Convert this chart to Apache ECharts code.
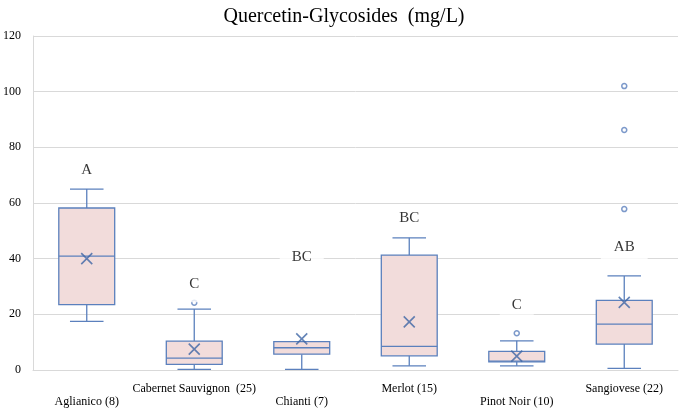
<!DOCTYPE html>
<html>
<head>
<meta charset="utf-8">
<script src="https://cdn.jsdelivr.net/npm/echarts@6/dist/echarts.min.js"></script>
<style>
  html, body { margin: 0; padding: 0; background: #fff; }
  #main { width: 688px; height: 411px; }
</style>
</head>
<body>
<div id="main"></div>
<script>
// categories and box statistics
var categories = ['Aglianico (8)', 'Cabernet Sauvignon  (25)', 'Chianti (7)', 'Merlot (15)', 'Pinot Noir (10)', 'Sangiovese (22)'];
var boxMin    = [17.5, 0.2, 0.2, 1.5, 1.5, 0.6];
var boxQ1     = [23.5, 2.0, 5.7, 5.1, 2.9, 9.3];
var boxMedian = [40.9, 4.3, 8.0, 8.5, 3.2, 16.5];
var boxQ3     = [58.2, 10.4, 10.2, 41.3, 6.7, 25.0];
var boxMax    = [65.0, 21.9, 10.2, 47.5, 10.5, 33.8];
var means     = [40.0, 7.5, 11.2, 17.3, 5.0, 24.3];
// outliers: [category index, value]
var outliers  = [[1, 24.2], [4, 13.2], [5, 57.8], [5, 86.2], [5, 102]];
// letter groups and where they sit
var groupLetters = ['A', 'C', 'BC', 'BC', 'C', 'AB'];
var letterPos    = [72, 31, 40.5, 54.5, 23.3, 44];

var serif = '"Liberation Serif", "Times New Roman", serif';
var blue = '#5b80bd';
// white label boxes differ a little in size
var letterPad = [[5, 10], [11, 12], [5, 12], [5, 12], [2, 12], [4, 13]];

var boxData = categories.map(function (c, i) {
  return [i, boxMin[i], boxQ1[i], boxMedian[i], boxQ3[i], boxMax[i]];
});

function renderBox(params, api) {
  var i = api.value(0);
  var band = api.size([1, 0])[0];
  var bw = band * 0.52;
  var cap = bw * 0.3;
  var pMin = api.coord([i, api.value(1)]);
  var pQ1 = api.coord([i, api.value(2)]);
  var pMed = api.coord([i, api.value(3)]);
  var pQ3 = api.coord([i, api.value(4)]);
  var pMax = api.coord([i, api.value(5)]);
  var x = pMin[0];
  var ls = { stroke: blue, lineWidth: 1.3 };
  return {
    type: 'group',
    children: [
      { type: 'line', shape: { x1: x, y1: pQ3[1], x2: x, y2: pMax[1] }, style: ls },
      { type: 'line', shape: { x1: x, y1: pMin[1], x2: x, y2: pQ1[1] }, style: ls },
      { type: 'line', shape: { x1: x - cap, y1: pMax[1], x2: x + cap, y2: pMax[1] }, style: ls },
      { type: 'line', shape: { x1: x - cap, y1: pMin[1], x2: x + cap, y2: pMin[1] }, style: ls },
      { type: 'rect', shape: { x: x - bw / 2, y: pQ3[1], width: bw, height: pQ1[1] - pQ3[1] },
        style: { fill: '#f2dcdb', stroke: blue, lineWidth: 1.3 } },
      { type: 'line', shape: { x1: x - bw / 2, y1: pMed[1], x2: x + bw / 2, y2: pMed[1] }, style: ls }
    ]
  };
}

var chart = echarts.init(document.getElementById('main'));
chart.setOption({
  animation: false,
  title: {
    text: 'Quercetin-Glycosides  (mg/L)',
    left: 'center',
    top: 2,
    textStyle: { fontFamily: serif, fontSize: 20, fontWeight: 'normal', color: '#000' }
  },
  grid: { left: 32, right: 10, top: 36, bottom: 41 },
  xAxis: {
    type: 'category',
    data: categories,
    axisLine: { lineStyle: { color: '#d9d9d9' } },
    axisTick: { show: false },
    axisLabel: {
      interval: 0,
      margin: 12,
      fontFamily: serif,
      fontSize: 12,
      lineHeight: 13,
      color: '#000',
      formatter: function (v, idx) { return idx % 2 === 0 ? '\n' + v : v; }
    }
  },
  yAxis: {
    type: 'value',
    min: 0,
    max: 120,
    interval: 20,
    axisLine: { show: true, lineStyle: { color: '#d9d9d9' } },
    axisTick: { show: false },
    splitLine: { lineStyle: { color: '#d9d9d9' } },
    axisLabel: { fontFamily: serif, fontSize: 12, color: '#000', margin: 12 }
  },
  series: [
    {
      type: 'custom',
      renderItem: renderBox,
      data: boxData,
      encode: { x: 0, y: [1, 2, 3, 4, 5] },
      z: 2
    },
    {
      type: 'scatter',
      data: means.map(function (m, i) { return [i, m]; }),
      symbol: 'path://M0,0L10,10M10,0L0,10',
      symbolSize: 11,
      itemStyle: { color: 'rgba(0,0,0,0)', borderColor: '#3d65a5', borderWidth: 1.6 },
      z: 4
    },
    {
      type: 'scatter',
      data: outliers,
      symbol: 'circle',
      symbolSize: 5,
      itemStyle: { color: '#ffffff', borderColor: blue, borderWidth: 1.5 },
      z: 4
    },
    {
      type: 'scatter',
      data: letterPos.map(function (p, i) {
        return { value: [i, p], label: { padding: letterPad[i] } };
      }),
      symbolSize: 0,
      silent: true,
      z: 5,
      label: {
        show: true,
        position: 'inside',
        formatter: function (p) { return groupLetters[p.dataIndex]; },
        fontFamily: serif,
        fontSize: 15,
        color: '#000',
        backgroundColor: '#ffffff'
      }
    }
  ]
});
</script>
</body>
</html>
